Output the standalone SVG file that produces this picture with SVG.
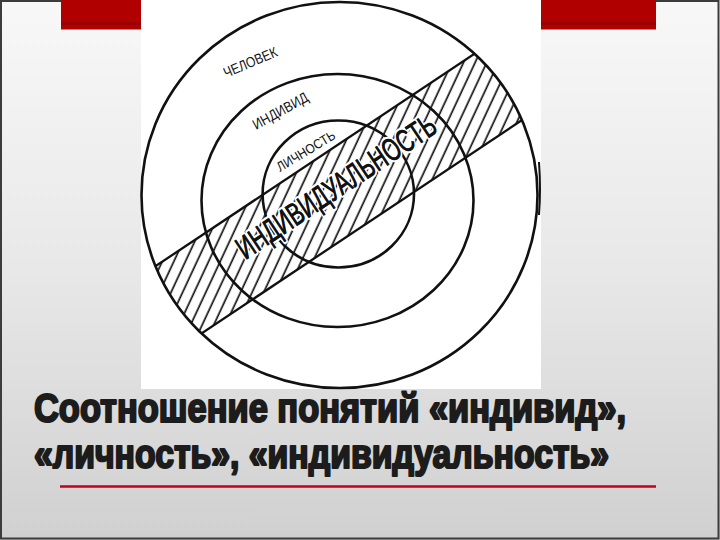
<svg xmlns="http://www.w3.org/2000/svg" width="720" height="540" viewBox="0 0 720 540">
<defs>
<linearGradient id="bg" x1="0" y1="0" x2="0" y2="1">
<stop offset="0" stop-color="#f8f8f8"/>
<stop offset="0.5" stop-color="#e8e8e8"/>
<stop offset="1" stop-color="#d0d0d0"/>
</linearGradient>
<pattern id="hatch" patternUnits="userSpaceOnUse" width="10.5" height="10" patternTransform="rotate(58.66)">
<line x1="5" y1="-2" x2="5" y2="12" stroke="#111" stroke-width="1.7"/>
</pattern>
<clipPath id="outerClip">
<ellipse cx="339.5" cy="195" rx="198" ry="193"/>
</clipPath>
</defs>
<style>
.ring{fill:none;stroke:#111;stroke-width:2.6}
.edge{stroke:#111;stroke-width:2.3}
.lbl{font-family:"Liberation Sans",Arial,sans-serif;fill:#111}
.red{fill:#b10000}
.title{font-family:"Liberation Sans",Arial,sans-serif;font-weight:bold;font-size:40px;fill:#1c1c1c;stroke:#1c1c1c;stroke-width:2.2;stroke-linejoin:round}
</style>
<g id="slide">
<rect x="0" y="0" width="720" height="540" fill="url(#bg)"/>
<rect x="1" y="1" width="717.5" height="537.5" fill="none" stroke="#3c3c3c" stroke-width="2"/>
<rect class="red" x="61" y="0" width="80" height="29.5"/>
<rect x="61" y="22" width="80" height="3" fill="#9a0000"/>
<rect class="red" x="540" y="0" width="116" height="29.5"/>
<rect x="540" y="22" width="116" height="3" fill="#9a0000"/>
<rect x="141" y="0" width="400" height="389" fill="#ffffff"/>
</g>
<g id="band-individualnost">
<g clip-path="url(#outerClip)">
<g transform="translate(339.5 192.6) rotate(-33.66)">
<rect x="-260" y="-40.75" width="520" height="81.5" fill="url(#hatch)"/>
<line class="edge" x1="-260" y1="-40.75" x2="260" y2="-40.75"/>
<line class="edge" x1="-260" y1="40.75" x2="260" y2="40.75"/>
</g>
</g>
</g>
<g id="circle-chelovek">
<ellipse class="ring" cx="339.5" cy="195" rx="198" ry="193"/>
<path d="M539 162 Q541 190 539 215" fill="none" stroke="#111" stroke-width="2"/>
<text class="lbl" x="0" y="0" font-size="14.5" textLength="57" lengthAdjust="spacingAndGlyphs" transform="translate(226 78) rotate(-23)">ЧЕЛОВЕК</text>
</g>
<g id="circle-individ">
<ellipse class="ring" cx="337.5" cy="200.5" rx="136" ry="126.5"/>
<text class="lbl" x="0" y="0" font-size="14.5" textLength="61" lengthAdjust="spacingAndGlyphs" transform="translate(256 130) rotate(-29)">ИНДИВИД</text>
</g>
<g id="circle-lichnost">
<ellipse class="ring" cx="338.3" cy="194" rx="75.7" ry="73.5"/>
<text class="lbl" x="0" y="0" font-size="13.5" textLength="66" lengthAdjust="spacingAndGlyphs" transform="translate(280 172) rotate(-31)">ЛИЧНОСТЬ</text>
</g>
<g id="band-label">
<text class="lbl" x="-116" y="4" font-size="32" textLength="233" lengthAdjust="spacingAndGlyphs" stroke="#fff" stroke-width="5" paint-order="stroke" stroke-linejoin="round" transform="translate(339.5 192.6) rotate(-33.66)">ИНДИВИДУАЛЬНОСТЬ</text>
<text class="lbl" x="-116" y="4" font-size="32" textLength="233" lengthAdjust="spacingAndGlyphs" stroke="#111" stroke-width="0.6" transform="translate(339.5 192.6) rotate(-33.66)">ИНДИВИДУАЛЬНОСТЬ</text>
</g>
<g id="title">
<text class="title" x="34" y="422" textLength="592" lengthAdjust="spacingAndGlyphs">Соотношение понятий «индивид»,</text>
<text class="title" x="34" y="468" textLength="575" lengthAdjust="spacingAndGlyphs">«личность», «индивидуальность»</text>
<line x1="60" y1="481.5" x2="656" y2="481.5" stroke="#e9c9ce" stroke-width="1"/>
<line x1="60" y1="486.5" x2="656" y2="486.5" stroke="#c0001c" stroke-width="2.5"/>
</g>
</svg>
